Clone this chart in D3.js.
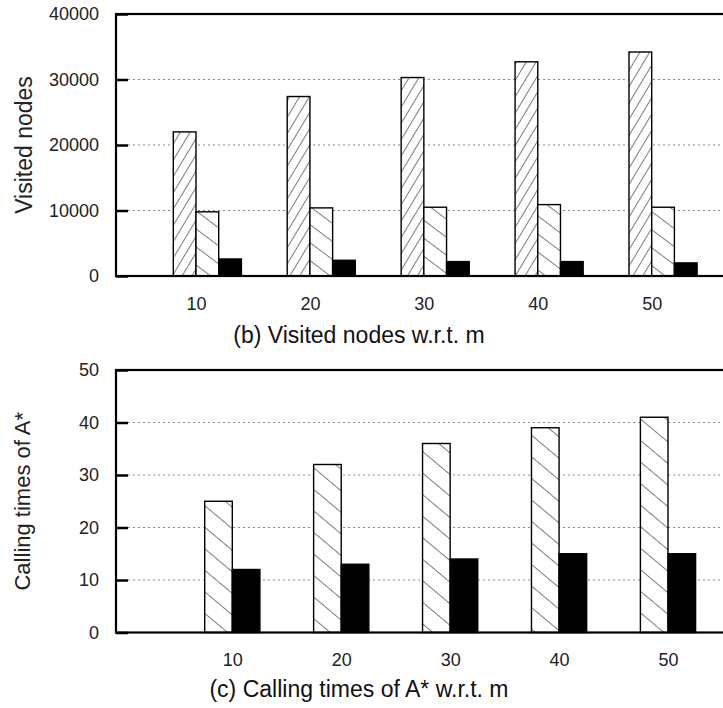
<!DOCTYPE html>
<html>
<head>
<meta charset="utf-8">
<script src="https://cdn.jsdelivr.net/npm/d3@7"></script>
<style>
  body { margin: 0; background: #fff; }
  svg { display: block; font-family: Arial, "Liberation Sans", sans-serif; }
</style>
</head>
<body>
<svg></svg>
<script>
// data
const categories = ["10", "20", "30", "40", "50"]

const visitedA = [22000, 27400, 30300, 32700, 34200]
const visitedB = [9800, 10400, 10500, 10900, 10500]
const visitedC = [2600, 2400, 2200, 2200, 2000]
const visitedTicks = [0, 10000, 20000, 30000, 40000]

const callingA = [25, 32, 36, 39, 41]
const callingB = [12, 13, 14, 15, 15]
const callingTicks = [0, 10, 20, 30, 40, 50]

const svg = d3.select("svg")
    .attr("width", 723)
    .attr("height", 708)

// hatch patterns
const defs = svg.append("defs")
const makeHatch = function(id, angle, gap){
    const p = defs.append("pattern")
        .attr("id", id)
        .attr("patternUnits", "userSpaceOnUse")
        .attr("width", gap)
        .attr("height", 40)
        .attr("patternTransform", `rotate(${angle})`)
    p.append("rect").attr("width", gap).attr("height", 40).attr("fill", "#fff")
    p.append("line")
        .attr("x1", gap / 2).attr("y1", -2)
        .attr("x2", gap / 2).attr("y2", 42)
        .attr("stroke", "#7a7a7a")
        .attr("stroke-width", 1)
}
makeHatch("hatchUp", 31, 8.4)      // "/" steep
makeHatch("hatchDown", -53, 14.4)  // "\" shallow
makeHatch("hatchDown2", -50, 16.5) // "\" in lower chart

const drawPanel = function(opts){
    const g = svg.append("g")
    const left = 116, right = 745
    const top = opts.top, bottom = opts.bottom

    const y = d3.scaleLinear()
        .domain([0, d3.max(opts.ticks)])
        .range([bottom, top])

    const x = d3.scalePoint()
        .domain(categories)
        .range(opts.xRange)

    const xs = d3.scaleBand()
        .domain(d3.range(opts.series.length))
        .range([-opts.bw, (opts.series.length - 1) * opts.bw])

    // dotted grid
    g.selectAll("line.grid")
        .data(opts.ticks.filter(t => t > 0 && t < d3.max(opts.ticks)))
        .enter()
        .append("line")
        .attr("class", "grid")
        .attr("x1", left + 12).attr("x2", right)
        .attr("y1", d => y(d)).attr("y2", d => y(d))
        .attr("stroke", "#8a8a8a")
        .attr("stroke-width", 1)
        .attr("stroke-dasharray", "2,3")

    // bars
    opts.series.forEach((s, si) => {
        g.selectAll(`rect.s${si}`)
            .data(s.values)
            .enter()
            .append("rect")
            .attr("class", `s${si}`)
            .attr("x", (d, i) => x(categories[i]) + xs(si))
            .attr("width", xs.bandwidth())
            .attr("y", d => y(d))
            .attr("height", d => bottom - y(d))
            .attr("fill", s.fill)
            .attr("stroke", "#000")
            .attr("stroke-width", 1.4)
    })

    // frame
    g.append("rect")
        .attr("x", left).attr("y", top)
        .attr("width", right - left).attr("height", bottom - top)
        .attr("fill", "none")
        .attr("stroke", "#000")
        .attr("stroke-width", 2.2)

    // y axis
    const yAxis = d3.axisLeft(y)
        .tickValues(opts.ticks)
        .tickFormat(d3.format("d"))
        .tickSizeInner(-12)
        .tickSizeOuter(0)
        .tickPadding(17)
    const ya = g.append("g")
        .attr("transform", `translate(${left},0)`)
        .call(yAxis)
    ya.select(".domain").remove()
    ya.selectAll(".tick line").attr("stroke-width", 2.5)
    ya.selectAll("text")
        .attr("font-size", 18)
        .attr("fill", "#222")

    // x axis
    const xa = g.append("g")
        .attr("transform", `translate(0,${bottom})`)
        .call(d3.axisBottom(x).tickSize(0).tickPadding(21))
    xa.select(".domain").remove()
    xa.selectAll("text")
        .attr("font-size", 18)
        .attr("fill", "#222")

    // y label
    g.append("text")
        .attr("transform", `translate(${opts.ylabelX},${(top + bottom) / 2}) rotate(-90)`)
        .attr("text-anchor", "middle")
        .attr("font-size", opts.ylabelSize)
        .attr("fill", "#222")
        .text(opts.ylabel)

    // caption
    g.append("text")
        .attr("x", 359)
        .attr("y", opts.captionY)
        .attr("text-anchor", "middle")
        .attr("font-size", 23)
        .attr("fill", "#111")
        .text(opts.caption)
}

drawPanel({
    top: 14,
    bottom: 276,
    ticks: visitedTicks,
    xRange: [196, 651.7],
    bw: 22.7,
    series: [
        { values: visitedA, fill: "url(#hatchUp)" },
        { values: visitedB, fill: "url(#hatchDown)" },
        { values: visitedC, fill: "#000" }
    ],
    ylabel: "Visited nodes",
    ylabelX: 32,
    ylabelSize: 23,
    caption: "(b) Visited nodes w.r.t. m",
    captionY: 343
})

drawPanel({
    top: 370,
    bottom: 632.5,
    ticks: callingTicks,
    xRange: [232.3, 668],
    bw: 27.6,
    series: [
        { values: callingA, fill: "url(#hatchDown2)" },
        { values: callingB, fill: "#000" }
    ],
    ylabel: "Calling times of A*",
    ylabelX: 30,
    ylabelSize: 22,
    caption: "(c) Calling times of A* w.r.t. m",
    captionY: 697
})
</script>
</body>
</html>
